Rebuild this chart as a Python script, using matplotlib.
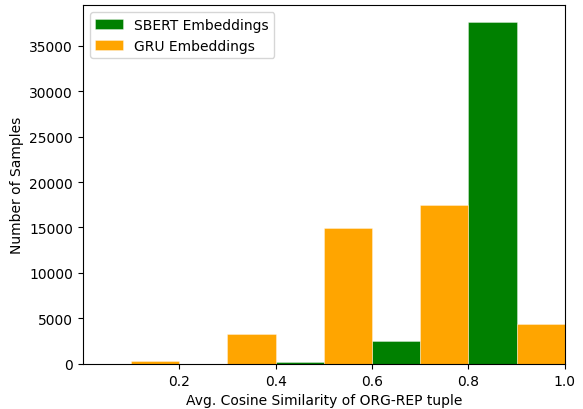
import numpy as np
import matplotlib
matplotlib.use('Agg')
import matplotlib.pyplot as plt

# histogram bins (cosine similarity) and counts
bin_edges = [0.0, 0.2, 0.4, 0.6, 0.8, 1.0]
sbert_counts = [0, 20, 250, 2560, 37570]
gru_counts = [360, 3330, 14930, 17420, 4420]
labels = ['SBERT Embeddings', 'GRU Embeddings']

centers = [(a + b) / 2 for a, b in zip(bin_edges[:-1], bin_edges[1:])]

fig = plt.figure(figsize=(5.83, 4.10), dpi=100)
ax = fig.add_axes([0.142, 0.110, 0.827, 0.875])

ax.hist([centers, centers], bins=bin_edges, weights=[sbert_counts, gru_counts],
        color=['green', 'orange'], label=labels, rwidth=1.0,
        edgecolor=(1, 1, 1, 0.4), linewidth=0.6)

ax.set_xlim(0.0, 1.0)
ax.set_xticks([0.2, 0.4, 0.6, 0.8, 1.0])
ax.set_xlabel('Avg. Cosine Similarity of ORG-REP tuple')
ax.set_ylabel('Number of Samples')
ax.legend(loc='upper left')

plt.savefig('out.png', dpi=100)
